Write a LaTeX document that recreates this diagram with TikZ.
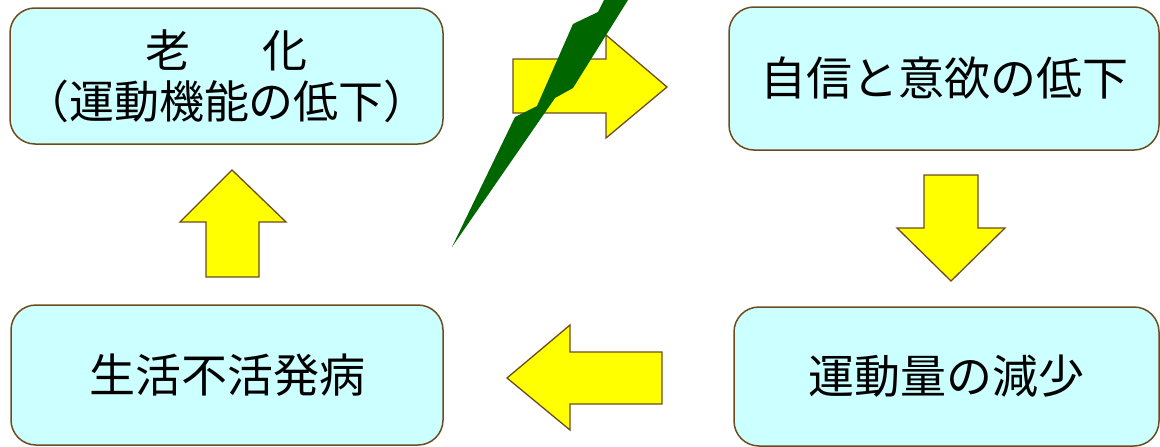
\documentclass[tikz,border=0pt]{standalone}
\usepackage{fontspec}
\newfontfamily\jp{Noto Sans CJK JP}
\definecolor{boxfill}{RGB}{204,255,255}
\definecolor{edgebrown}{RGB}{110,75,30}
\definecolor{arrowyellow}{RGB}{255,255,0}
\definecolor{boltgreen}{RGB}{0,102,0}
\tikzset{
  stagebox/.style={draw=edgebrown, fill=boxfill, line width=1.5pt, rounded corners=25pt,
    align=center, inner sep=0pt, font=\jp},
  blockarrow/.style={draw=edgebrown, fill=arrowyellow, line width=1.3pt, line join=miter},
  bolt/.style={fill=boltgreen, draw=none}
}
\begin{document}
\begin{tikzpicture}[x=1pt,y=-1pt]
\useasboundingbox (0,0) rectangle (1160,447);
% boxes
\node[stagebox, minimum width=433pt, minimum height=136pt, font=\jp\fontsize{45}{51}\selectfont] (aging) at (226.5,76)
  {老\hspace{1.6em}化\\（運動機能の低下）};
\node[stagebox, minimum width=430pt, minimum height=143pt, font=\jp\fontsize{46}{50}\selectfont] (confidence) at (944,78.5)
  {自信と意欲の低下};
\node[stagebox, minimum width=425pt, minimum height=139pt, font=\jp\fontsize{46}{50}\selectfont] (exercise) at (946.5,376.5)
  {運動量の減少};
\node[stagebox, minimum width=432pt, minimum height=140pt, font=\jp\fontsize{46}{50}\selectfont] (disuse) at (227,375)
  {生活不活発病};
% arrows
% right arrow (aging -> confidence)
\draw[blockarrow] (513,59) -- (606,59) -- (606,35) -- (667,87) -- (606,138) -- (606,113) -- (513,113) -- cycle;
% down arrow (confidence -> exercise)
\draw[blockarrow] (924,175) -- (978,175) -- (978,228) -- (1005,228) -- (951,281) -- (897,228) -- (924,228) -- cycle;
% left arrow (exercise -> disuse)
\draw[blockarrow] (662,352) -- (570,352) -- (570,325) -- (507,378) -- (570,430) -- (570,404) -- (662,404) -- cycle;
% up arrow (disuse -> aging)
\draw[blockarrow] (206,277) -- (206,222) -- (180,222) -- (232,170) -- (286,222) -- (259,222) -- (259,277) -- cycle;
% lightning bolt
\fill[bolt] (452,247) -- (515,117) -- (537,106) -- (573,24) -- (598,12) -- (604,0) -- (628,0)
  -- (573,88) -- (555,98) -- cycle;
\end{tikzpicture}
\end{document}
